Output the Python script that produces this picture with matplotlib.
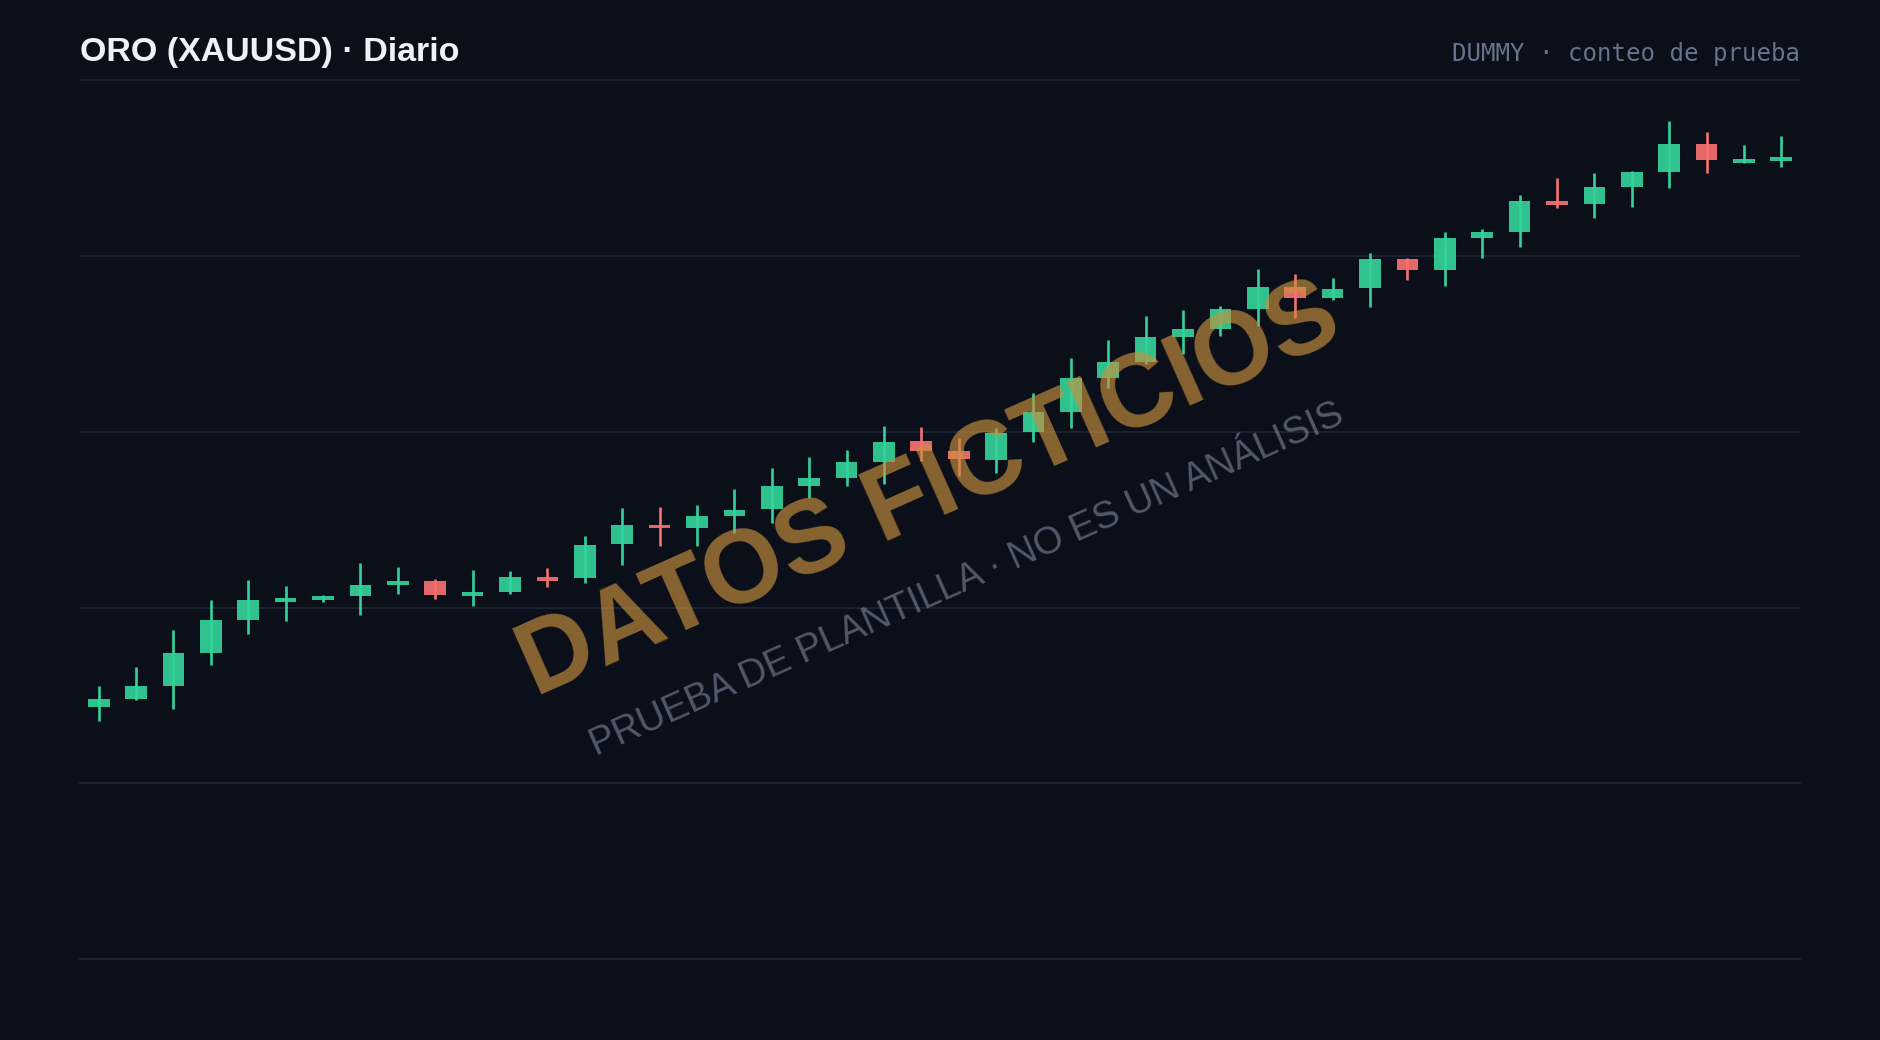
import matplotlib
matplotlib.use("Agg")
import matplotlib.pyplot as plt
import numpy as np

title = "ORO (XAUUSD) · Diario"
subtitle = "DUMMY · conteo de prueba"
watermark_main = "DATOS FICTICIOS"
watermark_sub = "PRUEBA DE PLANTILLA · NO ES UN ANÁLISIS"

opens = [2143.5, 2147.8, 2155.4, 2174.3, 2192.9, 2203.4, 2204.5, 2206.6, 2212.7, 2215.0,
         2206.4, 2208.7, 2217.4, 2216.7, 2236.0, 2247.2, 2245.4, 2252.3, 2255.9, 2269.2,
         2273.7, 2282.6, 2294.6, 2289.2, 2284.2, 2300.0, 2311.4, 2330.8, 2339.9, 2354.1,
         2358.3, 2369.8, 2382.5, 2376.3, 2381.6, 2398.3, 2391.9, 2410.1, 2413.8, 2431.4,
         2429.6, 2439.2, 2447.9, 2463.7, 2453.1, 2454.0]
highs = [2155.4, 2166.2, 2187.4, 2204.3, 2215.7, 2212.3, 2207.2, 2225.4, 2223.1, 2216.4,
         2221.6, 2220.8, 2222.5, 2240.7, 2256.5, 2257.2, 2258.5, 2267.3, 2279.4, 2285.8,
         2289.5, 2303.3, 2302.6, 2296.6, 2302.0, 2321.9, 2342.1, 2352.2, 2365.7, 2369.3,
         2371.7, 2392.4, 2389.7, 2387.6, 2401.9, 2399.1, 2413.5, 2415.2, 2434.5, 2444.4,
         2447.0, 2448.2, 2476.6, 2470.7, 2463.1, 2468.1]
lows = [2135.7, 2147.2, 2142.5, 2167.4, 2185.2, 2192.6, 2203.2, 2195.8, 2207.6, 2205.1,
        2200.9, 2207.7, 2211.9, 2214.2, 2224.4, 2235.2, 2235.0, 2242.3, 2247.9, 2262.2,
        2269.3, 2270.3, 2283.4, 2275.0, 2276.4, 2294.4, 2302.0, 2324.7, 2338.4, 2344.2,
        2354.5, 2360.3, 2364.9, 2375.0, 2370.8, 2386.2, 2383.1, 2398.7, 2405.3, 2427.1,
        2421.8, 2428.0, 2438.5, 2447.4, 2452.7, 2450.8]
closes = [2148.0, 2155.4, 2174.3, 2192.9, 2204.3, 2205.5, 2206.6, 2212.9, 2215.0, 2207.3,
          2208.7, 2217.2, 2215.1, 2235.6, 2247.0, 2245.1, 2252.3, 2255.7, 2269.2, 2273.5,
          2282.6, 2294.4, 2289.2, 2284.4, 2299.6, 2311.1, 2330.4, 2339.9, 2354.1, 2358.3,
          2369.7, 2382.5, 2376.3, 2381.4, 2398.3, 2391.9, 2410.1, 2413.6, 2431.4, 2429.2,
          2439.2, 2447.9, 2463.7, 2454.6, 2455.2, 2456.3]
y_ticks = [2000, 2100, 2200, 2300, 2400, 2500]

BG = "#0b0f19"
GRID = "#1f2738"
UP = "#34d399"
DOWN = "#f87171"

fig = plt.figure(figsize=(18.8, 10.4), dpi=100, facecolor=BG)
ax = fig.add_axes([80 / 1880, 1 - 959.2 / 1040, 1720 / 1880, (959.2 - 80.3) / 1040])
ax.set_facecolor(BG)

o = np.array(opens); h = np.array(highs); l = np.array(lows); c = np.array(closes)
x = np.arange(len(o))
up = c >= o
colors = np.where(up, UP, DOWN)

for yv in y_ticks:
    ax.axhline(yv, color=GRID, lw=1.2, zorder=0, clip_on=False)

bottoms = np.minimum(o, c)
heights = np.maximum(np.abs(c - o), 1.2)
ax.bar(x, heights, bottom=bottoms, width=0.58, color=colors, alpha=0.92,
       linewidth=0, zorder=2)
ax.vlines(x, l, h, colors=colors, linewidth=1.9, zorder=3)

ax.set_xlim(-0.5, len(o) - 0.5)
ax.set_ylim(y_ticks[0], y_ticks[-1])
ax.set_xticks([]); ax.set_yticks([])
for s in ax.spines.values():
    s.set_visible(False)

fig.text(80 / 1880, 1 - 60.7 / 1040, title, color="#eef1f6", fontsize=24.5,
         fontweight="bold", family="Liberation Sans", ha="left", va="baseline")
fig.text(1800 / 1880, 1 - 60.7 / 1040, subtitle, color="#64748b", fontsize=17.25,
         family="DejaVu Sans Mono", ha="right", va="baseline")

fig.text(941 / 1880, 1 - 517 / 1040, watermark_main, color="#c8913f", alpha=0.66,
         fontsize=74, fontweight="bold", family="Liberation Sans",
         ha="center", va="baseline", rotation=24, rotation_mode="anchor", zorder=10)
fig.text(971 / 1880, 1 - 589 / 1040, watermark_sub, color="#94a3b8", alpha=0.5,
         fontsize=27.3, family="Liberation Sans",
         ha="center", va="baseline", rotation=24, rotation_mode="anchor", zorder=10)

fig.savefig("out.png", dpi=100, facecolor=BG)
